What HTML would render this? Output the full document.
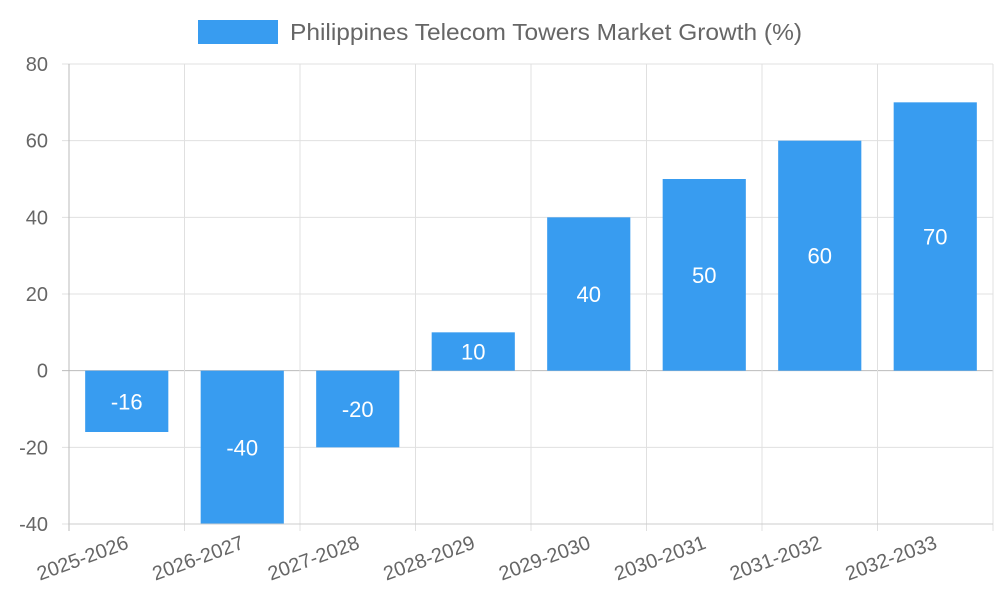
<!DOCTYPE html>
<html>
<head>
<meta charset="utf-8">
<style>
html,body{margin:0;padding:0;background:#fff;}
svg{display:block;font-family:"Liberation Sans",Arial,sans-serif;}
</style>
</head>
<body>
<svg id="chart" width="1000" height="600" viewBox="0 0 1000 600">
  <g id="legend">
    <rect x="198" y="20" width="80" height="24" fill="#389cf0"></rect>
    <text x="290" y="40" font-size="23" fill="#666" textLength="512" lengthAdjust="spacingAndGlyphs">Philippines Telecom Towers Market Growth (%)</text>
  </g>
  <g id="grid"></g>
  <g id="bars"></g>
  <g id="labels"></g>
  <g id="axes"></g>
</svg>
<script>
const categories = ["2025-2026","2026-2027","2027-2028","2028-2029","2029-2030","2030-2031","2031-2032","2032-2033"];
const values = [-16,-40,-20,10,40,50,60,70];
const yTicks = [-40,-20,0,20,40,60,80];

const NS = "http://www.w3.org/2000/svg";
const plotLeft = 69, plotRight = 993, plotTop = 64, plotBottom = 524;
const yMin = -40, yMax = 80;
const bandW = (plotRight-plotLeft)/categories.length;
function yScale(v){return plotBottom - (v-yMin)/(yMax-yMin)*(plotBottom-plotTop);}
function xScale(i){return plotLeft + bandW*i;}
function mk(tag, attrs, parent){const e=document.createElementNS(NS,tag);for(const k in attrs)e.setAttribute(k,attrs[k]);parent.appendChild(e);return e;}
const gGrid=document.getElementById('grid'), gBars=document.getElementById('bars'), gLabels=document.getElementById('labels'), gAxes=document.getElementById('axes');

yTicks.forEach(t=>{
  const l=mk('line',{x1:plotLeft-7,x2:plotRight,y1:yScale(t),y2:yScale(t),stroke:t===0?'#bbb':'#e0e0e0','stroke-width':1},gGrid);
  
  
  const tx=mk('text',{x:48,y:yScale(t)+7,'text-anchor':'end','font-size':20,fill:'#666'},gAxes);
  tx.textContent=t;
  
  
});
for(let i=0;i<=categories.length;i++){
  const l=mk('line',{x1:xScale(i),x2:xScale(i),y1:plotTop,y2:plotBottom+7,stroke:i===0?'#bbb':'#e0e0e0','stroke-width':1},gGrid);
  
  
}
const ax=mk('line',{x1:plotLeft,x2:plotRight,y1:plotBottom,y2:plotBottom,stroke:'#ccc','stroke-width':1},gAxes);



categories.forEach((c,i)=>{
  const v=values[i];
  const w=bandW*0.72, cx=xScale(i)+bandW/2;
  const y0=yScale(0), y1=yScale(v);
  const r=mk('rect',{x:cx-w/2,y:Math.min(y0,y1),width:w,height:Math.abs(y1-y0),fill:'#389cf0'},gBars);
  
  
  const t=mk('text',{x:cx,y:(y0+y1)/2+8,'text-anchor':'middle','font-size':22,fill:'#fff'},gLabels);
  t.textContent=v;
  
  
  const lx=cx+3, ly=plotBottom+24;
  const xl=mk('text',{x:lx,y:ly,'text-anchor':'end','font-size':20,fill:'#666',transform:'rotate(-20 '+lx+' '+ly+')'},gAxes);
  xl.textContent=c;
  
  
});
</script>
</body>
</html>
